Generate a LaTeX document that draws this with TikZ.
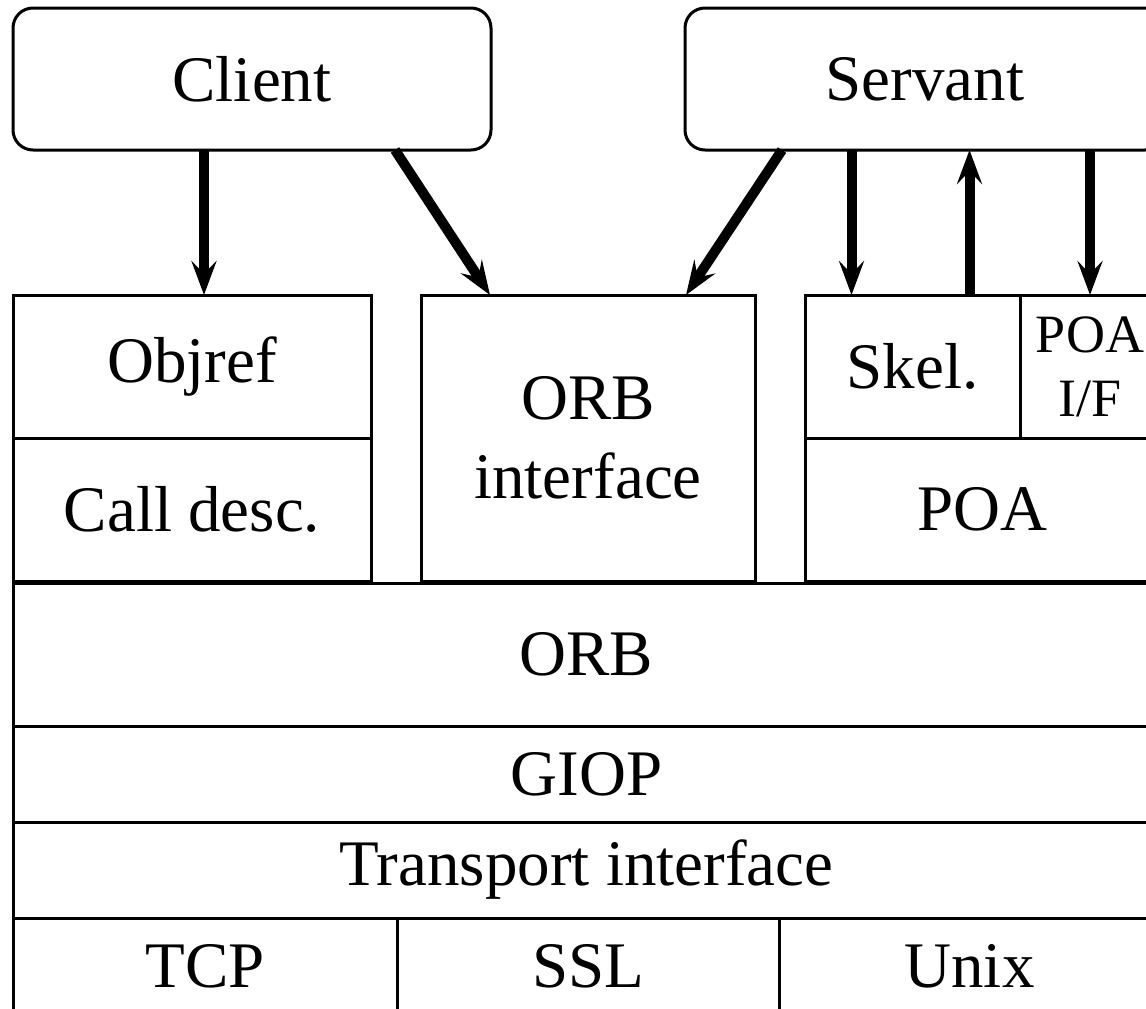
\documentclass[tikz,border=0pt]{standalone}
\usepackage{fontspec}
\setmainfont{Liberation Serif}
\usetikzlibrary{arrows.meta}

\begin{document}
\begin{tikzpicture}[
    x=1pt, y=-1pt,
    every node/.style={font=\fontsize{65}{79}\selectfont, align=center,
                       inner sep=0pt, outer sep=0pt},
    cell/.style 2 args={draw, line width=3pt, anchor=north west,
                        minimum width=#1pt, minimum height=#2pt},
    app/.style={cell={#1}{142}, rounded corners=20pt},
    arr/.style={-{Stealth[length=34pt,width=25pt,inset=13pt]}, line width=10pt},
  ]
  \useasboundingbox (0,0) rectangle (1146,1009);

  % applications
  \node[app=478] at (13,8)  (client)  {Client};
  \node[app=480] at (685,8) (servant) {Servant};

  % client side
  \node[cell={358}{143}] at (13,295) (objref)   {Objref};
  \node[cell={358}{143}] at (13,438) (calldesc) {Call desc.};

  % orb interface
  \node[cell={334}{286}] at (421,295) (orbif) {ORB\\interface};

  % server side
  \node[cell={215}{143}] at (805,295)  (skel)  {Skel.};
  \node[cell={140}{143}, font=\fontsize{54}{64}\selectfont]
                          at (1020,295) (poaif) {POA\\I/F};
  \node[cell={355}{143}] at (805,438)  (poa)   {POA};

  % layers
  \node[cell={1147}{143}] at (13,583) (orb)       {ORB};
  \node[cell={1147}{96}]  at (13,726) (giop)      {GIOP};
  \node[cell={1147}{96}]  at (13,822) (transport) {Transport interface};

  \node[cell={384}{96}] at (13,918)  (tcp)  {TCP};
  \node[cell={382}{96}] at (397,918) (ssl)  {SSL};
  \node[cell={381}{96}] at (779,918) (unix) {Unix};

  \draw[arr] ([xshift=12pt]objref.north |- client.south) -- ([xshift=12pt]objref.north);
  \draw[arr] ([xshift=143pt]client.south) -- ([xshift=69pt]orbif.north west);
  \draw[arr] ([xshift=-143pt]servant.south) -- ([xshift=-69pt]orbif.north east);
  \draw[arr] ([xshift=-61pt]skel.north |- servant.south) -- ([xshift=-61pt]skel.north);
  \draw[arr] ([xshift=57pt]skel.north) -- ([xshift=57pt]skel.north |- servant.south);
  \draw[arr] (poaif.north |- servant.south) -- (poaif.north);
\end{tikzpicture}
\end{document}
